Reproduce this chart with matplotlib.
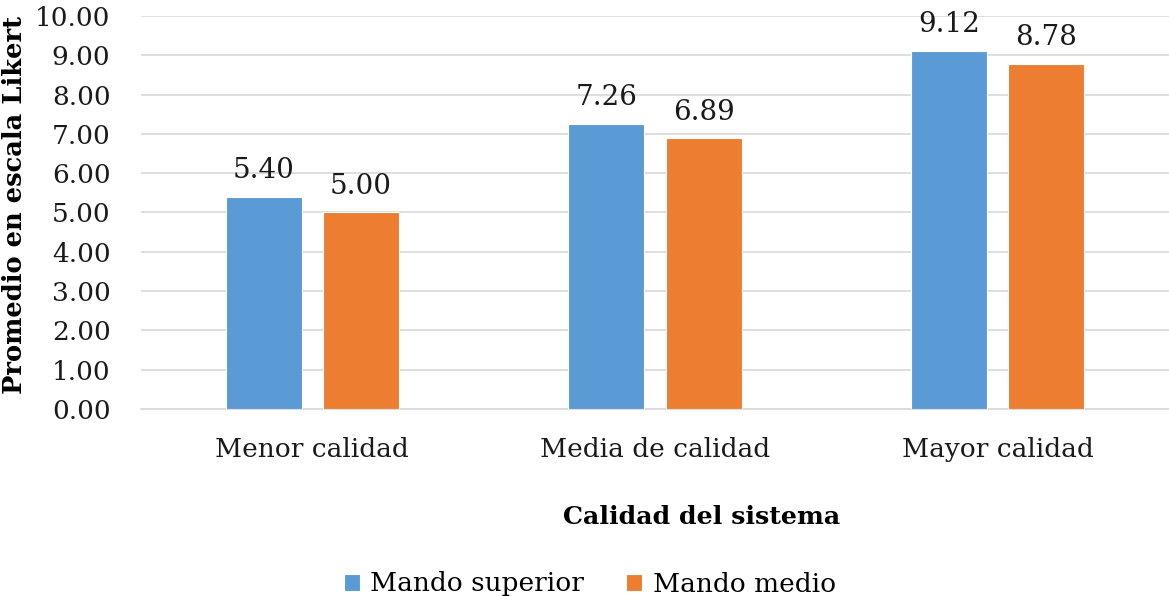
import matplotlib.pyplot as plt
import numpy as np

categories = ['Menor calidad', 'Media de calidad', 'Mayor calidad']
series_names = ['Mando superior', 'Mando medio']
mando_superior = [5.40, 7.26, 9.12]
mando_medio = [5.00, 6.89, 8.78]
yticks = [0, 1, 2, 3, 4, 5, 6, 7, 8, 9, 10]

plt.rcParams['font.family'] = ['DejaVu Serif']

fig = plt.figure(figsize=(11.69, 5.96), dpi=100)
ax = fig.add_axes([141 / 1169, 1 - 409 / 596, 1 - 141 / 1169, (409 - 16) / 596])

x = np.arange(len(categories))
w = 0.222
off = 0.142
colors = ['#5B9BD5', '#ED7D31']

for vals, dx, col, name in [(mando_superior, -off, colors[0], series_names[0]),
                             (mando_medio, off, colors[1], series_names[1])]:
    bars = ax.bar(x + dx, vals, w, color=col, edgecolor='white', linewidth=0.8,
                  label=name, zorder=3)
    for b, v in zip(bars, vals):
        ax.annotate(f'{v:.2f}', (b.get_x() + b.get_width() / 2, v),
                    xytext=(0, 9), textcoords='offset points',
                    ha='center', va='bottom', fontsize=20, color='#1a1a1a')

ax.set_xlim(-0.5, 2.5)
ax.set_ylim(0, 10)
ax.set_yticks(yticks)
ax.set_yticklabels([f'{t:.2f}' for t in yticks], fontsize=19)
ax.set_xticks(x)
ax.set_xticklabels(categories, fontsize=19)
ax.tick_params(axis='both', length=0, colors='#1a1a1a')
ax.tick_params(axis='x', pad=20)
ax.tick_params(axis='y', pad=22)
ax.grid(axis='y', color='#D9D9D9', linewidth=1.2, zorder=0)
for s in ['top', 'right', 'left']:
    ax.spines[s].set_visible(False)
ax.spines['bottom'].set_color('#D9D9D9')
ax.spines['bottom'].set_linewidth(1.2)

fig.text(15 / 1169, 1 - 205 / 596, 'Promedio en escala Likert', rotation=90,
         ha='center', va='center', fontsize=18.5, fontweight='bold')
fig.text(702 / 1169, 1 - 517 / 596, 'Calidad del sistema',
         ha='center', va='center', fontsize=18.2, fontweight='bold')

fig.legend(loc='center', bbox_to_anchor=(590 / 1169, 1 - 584 / 596), ncol=2,
           frameon=False, fontsize=19, handlelength=0.6, handleheight=0.6,
           handletextpad=0.4, columnspacing=1.6)

fig.savefig('out.png', dpi=100)
